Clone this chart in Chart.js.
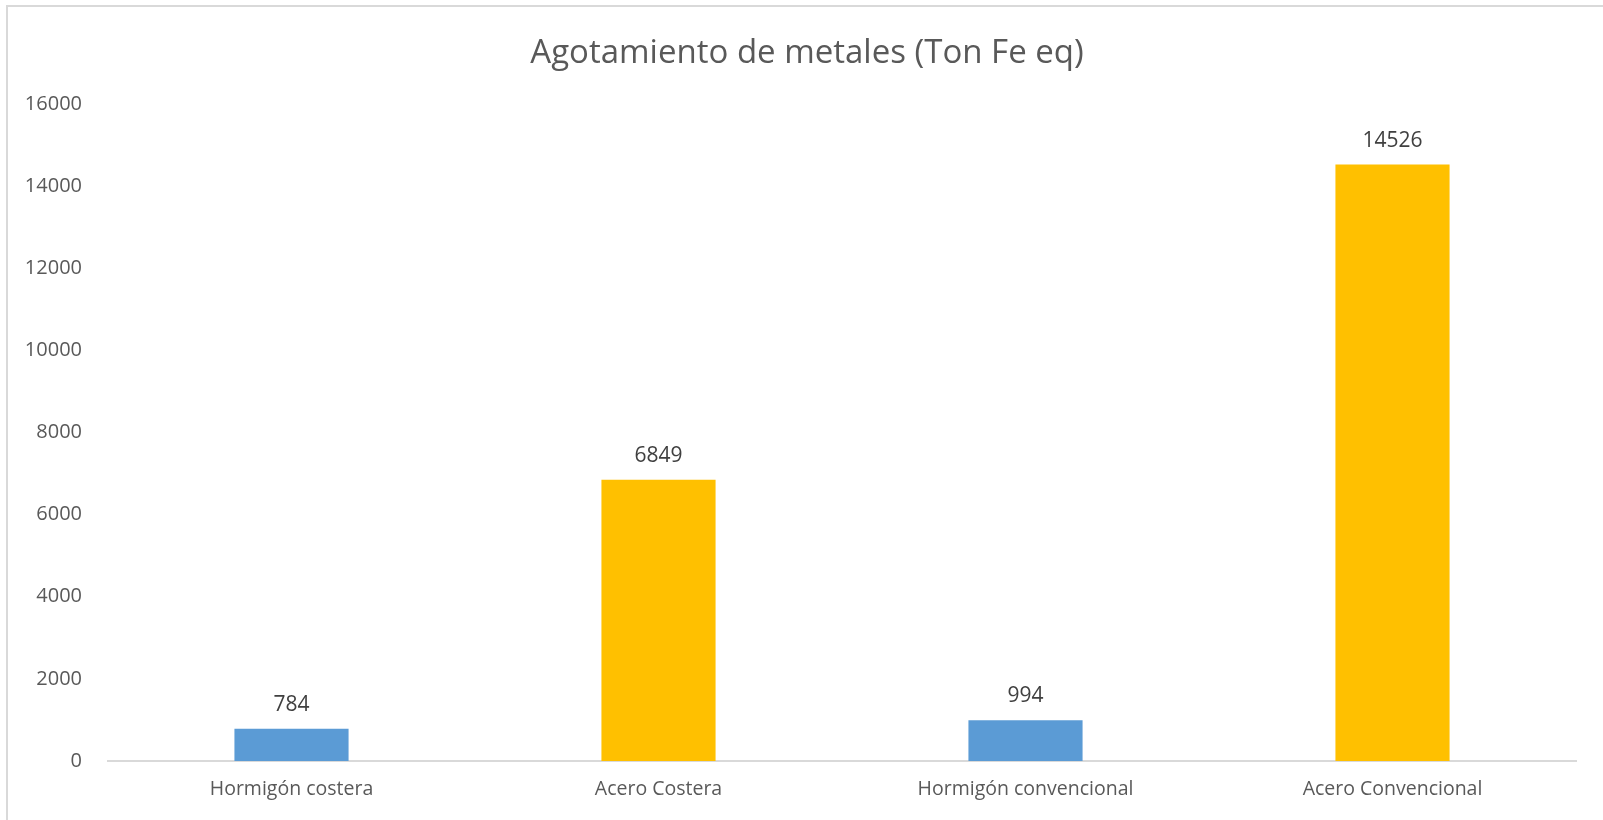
<!DOCTYPE html>
<html>
<head>
<meta charset="utf-8">
<script src="https://cdn.jsdelivr.net/npm/chart.js@4"></script>
<style>
  body { margin: 0; background: #fff; }
  #wrap { position: relative; width: 1603px; height: 820px; }
  #frame { position: absolute; left: 6px; top: 5px; right: -10px; bottom: -10px;
           border-top: 2px solid #d9d9d9; border-left: 2px solid #d9d9d9; pointer-events: none; }
  canvas { position: absolute; left: 0; top: 0; }
</style>
</head>
<body>
<div id="wrap">
  <canvas id="graph" width="1603" height="820"></canvas>
  <div id="frame"></div>
</div>
<script>
const categories = ['Hormigón costera', 'Acero Costera', 'Hormigón convencional', 'Acero Convencional'];
const values = [784, 6849, 994, 14526];
const barColors = ['#5B9BD5', '#FFC000', '#5B9BD5', '#FFC000'];
const yTicks = [0, 2000, 4000, 6000, 8000, 10000, 12000, 14000, 16000];

const chartTitle = 'Agotamiento de metales (Ton Fe eq)';
const font = 'Open Sans';

// title and value labels drawn by hand, like the spreadsheet chart
const drawExtras = {
  id: 'drawExtras',
  afterDatasetsDraw(chart) {
    const ctx = chart.ctx;
    ctx.save();
    ctx.fillStyle = '#595959';
    ctx.font = '33px "' + font + '"';
    ctx.textAlign = 'center';
    ctx.textBaseline = 'alphabetic';
    ctx.fillText(chartTitle, 807, 63);

    ctx.fillStyle = '#404040';
    ctx.font = '21px "' + font + '"';
    ctx.textBaseline = 'middle';
    chart.getDatasetMeta(0).data.forEach((bar, i) => {
      ctx.fillText(values[i], bar.x, bar.y - 24);
    });
    ctx.restore();
  }
};

const ctx = document.getElementById('graph').getContext('2d');
const myChart = new Chart(ctx, {
  type: 'bar',
  data: {
    labels: categories,
    datasets: [{
      data: values,
      backgroundColor: barColors,
      borderWidth: 0,
      barPercentage: 0.311,
      categoryPercentage: 1.0
    }]
  },
  options: {
    responsive: false,
    animation: false,
    layout: { padding: { top: 104, right: 27, bottom: 0, left: 0 } },
    plugins: {
      legend: { display: false },
      title: { display: false },
      tooltip: { enabled: false }
    },
    scales: {
      x: {
        grid: { display: false, drawTicks: false },
        border: { display: true, color: '#d9d9d9', width: 2 },
        ticks: { color: '#595959', font: { family: font, size: 19.5 }, padding: 17 },
        afterFit: (scale) => { scale.height = 59; }
      },
      y: {
        min: 0,
        max: 16000,
        afterBuildTicks: (scale) => { scale.ticks = yTicks.map(v => ({ value: v })); },
        grid: { display: false, drawTicks: false },
        border: { display: false },
        ticks: {
          color: '#595959',
          font: { family: font, size: 20 },
          padding: 26,
          callback: (v) => String(v)
        },
        afterFit: (scale) => { scale.width = 108; }
      }
    }
  },
  plugins: [drawExtras]
});
</script>
</body>
</html>
